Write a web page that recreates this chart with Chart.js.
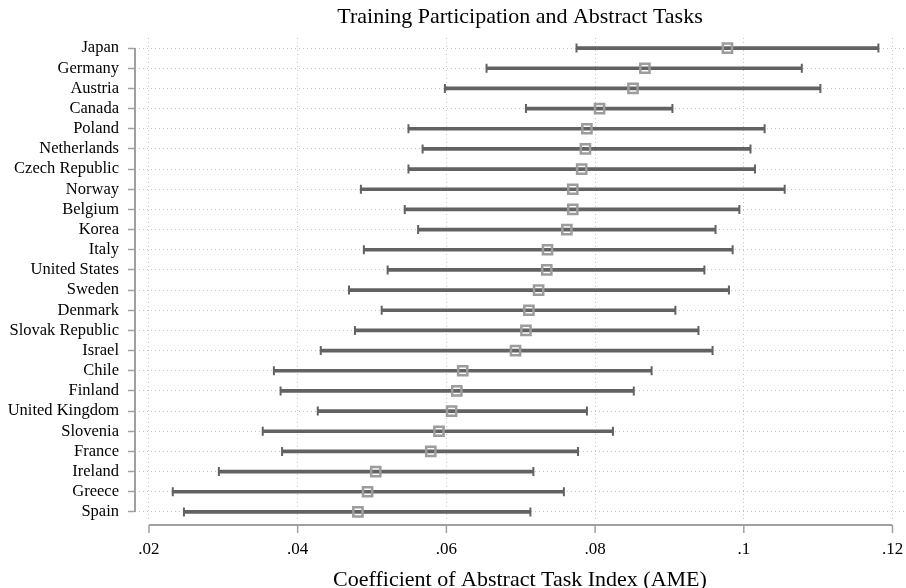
<!DOCTYPE html>
<html>
<head>
<meta charset="utf-8">
<script src="https://cdn.jsdelivr.net/npm/chart.js@4.4.1/dist/chart.umd.min.js"></script>
<style>
  html, body { margin: 0; padding: 0; background: #fff; }
  #wrap { width: 906px; height: 588px; }
</style>
</head>
<body>
<div id="wrap"><canvas id="ameChart"></canvas></div>
<script>
// Values
var countries = ['Japan', 'Germany', 'Austria', 'Canada', 'Poland', 'Netherlands', 'Czech Republic',
  'Norway', 'Belgium', 'Korea', 'Italy', 'United States', 'Sweden', 'Denmark', 'Slovak Republic',
  'Israel', 'Chile', 'Finland', 'United Kingdom', 'Slovenia', 'France', 'Ireland', 'Greece', 'Spain'];
var ame = [0.0978, 0.0867, 0.0851, 0.0806, 0.0789, 0.0787, 0.0782, 0.0770, 0.0770, 0.0762, 0.0736, 0.0735,
  0.0724, 0.0711, 0.0707, 0.0693, 0.0622, 0.0614, 0.0607, 0.0590, 0.0579, 0.0505, 0.0494, 0.0481];
var ciLow = [0.0775, 0.0654, 0.0598, 0.0707, 0.0549, 0.0568, 0.0549, 0.0485, 0.0544, 0.0562, 0.0489, 0.0521,
  0.0469, 0.0513, 0.0477, 0.0431, 0.0368, 0.0377, 0.0427, 0.0353, 0.0379, 0.0294, 0.0232, 0.0247];
var ciHigh = [0.1181, 0.1078, 0.1103, 0.0904, 0.1028, 0.1009, 0.1015, 0.1055, 0.0994, 0.0962, 0.0985, 0.0947,
  0.0980, 0.0908, 0.0939, 0.0958, 0.0876, 0.0852, 0.0789, 0.0824, 0.0777, 0.0717, 0.0758, 0.0713];
var xTicks = [0.02, 0.04, 0.06, 0.08, 0.1, 0.12];

var serif = 'Liberation Serif, Times New Roman, serif';

// Stata style axis lines: only over the tick range
var axisLines = {
  id: 'axisLines',
  afterDraw: function(chart) {
    var ctx = chart.ctx;
    var x = chart.scales.x, y = chart.scales.y;
    var area = chart.chartArea;
    ctx.save();
    ctx.strokeStyle = '#a0a0a0';
    ctx.lineWidth = 2;
    // y axis
    ctx.beginPath();
    ctx.moveTo(area.left, y.getPixelForValue(0));
    ctx.lineTo(area.left, y.getPixelForValue(countries.length - 1));
    ctx.stroke();
    // x axis with ticks pointing down
    var yy = area.bottom + 3;
    var x0 = x.getPixelForValue(xTicks[0]);
    var x1 = x.getPixelForValue(xTicks[xTicks.length - 1]);
    ctx.beginPath();
    ctx.moveTo(x0, yy);
    ctx.lineTo(x1, yy);
    ctx.stroke();
    ctx.lineWidth = 1.5;
    xTicks.forEach(function(v) {
      var px = x.getPixelForValue(v);
      ctx.beginPath();
      ctx.moveTo(px, yy);
      ctx.lineTo(px, yy + 8);
      ctx.stroke();
    });
    ctx.restore();
  }
};

var ctx = document.getElementById('ameChart').getContext('2d');
var chartInstance = new Chart(ctx, {
  type: 'bar',
  data: {
    labels: countries,
    datasets: [{
      label: 'CI',
      data: countries.map(function(c, i) { return [ciLow[i], ciHigh[i]]; }),
      backgroundColor: '#626262',
      barThickness: 3,
      order: 3
    }, {
      type: 'line',
      label: 'caps',
      data: countries.map(function(c, i) { return { x: ciLow[i], y: c }; })
        .concat(countries.map(function(c, i) { return { x: ciHigh[i], y: c }; })),
      showLine: false,
      pointStyle: 'line',
      rotation: 90,
      pointRadius: 4.5,
      borderColor: '#626262',
      pointBorderWidth: 2,
      order: 2
    }, {
      type: 'line',
      label: 'AME',
      data: countries.map(function(c, i) { return { x: ame[i], y: c }; }),
      showLine: false,
      pointStyle: 'rect',
      pointRadius: 6.5,
      pointBorderWidth: 2.5,
      borderColor: '#9c9c9c',
      backgroundColor: 'rgba(255,255,255,0)',
      order: 1
    }]
  },
  options: {
    indexAxis: 'y',
    responsive: true,
    maintainAspectRatio: false,
    animation: false,
    layout: { autoPadding: false, padding: { left: 0, right: 1, top: 0, bottom: 0 } },
    plugins: {
      legend: { display: false },
      tooltip: { enabled: false },
      title: {
        display: true,
        fullSize: false,
        text: 'Training Participation and Abstract Tasks',
        color: '#000',
        font: { family: serif, size: 22, weight: 'normal', lineHeight: 1.2 },
        padding: { top: 4, bottom: 7.6 }
      }
    },
    scales: {
      x: {
        type: 'linear',
        min: 0.01812,
        max: 0.12168,
        afterBuildTicks: function(scale) {
          scale.ticks = xTicks.map(function(v) { return { value: v }; });
        },
        afterFit: function(scale) {
          scale.height = 66;
          scale.paddingLeft = 0;
          scale.paddingRight = 0;
        },
        grid: { color: '#c4c4c4', lineWidth: 1, drawTicks: false },
        border: { display: false, dash: [1, 3] },
        ticks: {
          color: '#000',
          padding: 17,
          font: { family: serif, size: 17 },
          callback: function(v) { return String(+v.toFixed(2)).replace(/^0/, ''); }
        },
        title: {
          display: true,
          text: 'Coefficient of Abstract Task Index (AME)',
          color: '#000',
          font: { family: serif, size: 22, lineHeight: 1 },
          padding: { top: 4, bottom: -3.5 }
        }
      },
      y: {
        type: 'category',
        offset: true,
        afterFit: function(scale) { scale.width = 135; },
        grid: {
          offset: false,
          color: '#c4c4c4',
          lineWidth: 1,
          tickLength: 7,
          tickColor: '#a0a0a0',
          tickWidth: 1.5,
          tickBorderDash: []
        },
        border: { display: false, dash: [1, 3] },
        ticks: {
          color: '#000',
          padding: 9,
          autoSkip: false,
          font: { family: serif, size: 16.5 }
        }
      }
    }
  },
  plugins: [axisLines]
});
</script>
</body>
</html>
